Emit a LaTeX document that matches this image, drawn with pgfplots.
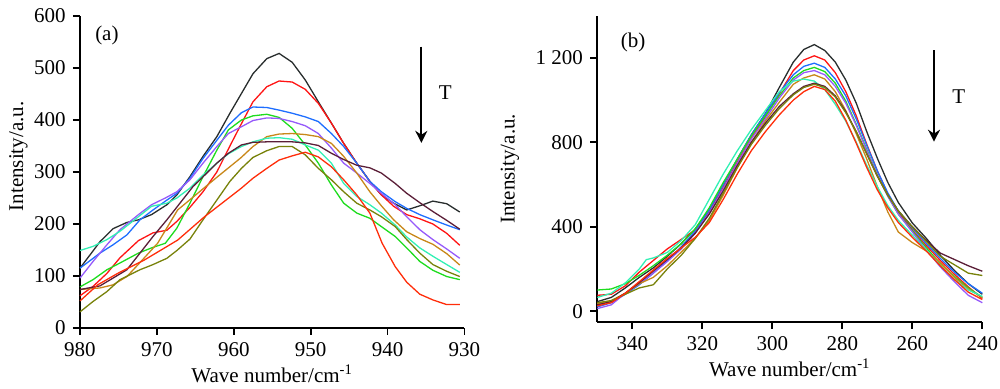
\documentclass[border=0pt]{standalone}
\usepackage{fontspec}
\setmainfont{Liberation Serif}
\usepackage{pgfplots}
\pgfplotsset{compat=1.18}
\usetikzlibrary{arrows.meta}
\definecolor{cK}{RGB}{40,45,45}
\definecolor{cR}{RGB}{255,20,20}
\definecolor{cO}{RGB}{255,45,10}
\definecolor{cB}{RGB}{30,110,255}
\definecolor{cG}{RGB}{30,220,30}
\definecolor{cP}{RGB}{150,90,250}
\definecolor{cY}{RGB}{200,135,25}
\definecolor{cC}{RGB}{50,240,180}
\definecolor{cM}{RGB}{90,30,55}
\definecolor{cV}{RGB}{120,130,10}
\pgfplotsset{myaxis/.style={
  scale only axis, axis x line*=bottom, axis y line*=left, x dir=reverse,
  tick align=outside, major tick length=3.5pt,
  axis line style={line width=0.9pt},
  every tick/.style={line width=0.9pt, black},
  /pgf/number format/assume math mode=true,
  every axis plot/.append style={line width=0.65pt, no markers},
  clip=false,
  xlabel={Wave number/cm\textsuperscript{-1}},
  ylabel={Intensity/a.u.},
  xlabel shift=-3pt,
}}
\begin{document}
\fontsize{10.5}{12}\selectfont
\begin{tikzpicture}
\path[use as bounding box] (0,0) rectangle (500pt,194.5pt);
\begin{axis}[myaxis, at={(40pt,30.5pt)}, anchor=south west,
  width=192.2pt, height=156pt,
  xmin=930, xmax=980, ymin=0, ymax=600,
  xtick={930,940,...,980}, ytick={0,100,...,600},
  ylabel shift=-4pt, ylabel style={at={(ticklabel cs:0.55)}}]
\addplot[cK] coordinates {(980,115)(977.4,166)(975.7,191)(973.9,203)(972.4,208)(970.7,218)(968.7,237)(967.4,256)(965.7,291)(964.0,330)(962.2,368)(960.5,413)(959.0,451)(957.5,489)(955.7,518)(954.1,528)(952.4,511)(950.7,477)(949.0,435)(947.3,394)(945.7,355)(944.0,317)(942.3,282)(940.8,256)(939.2,240)(937.5,227)(935.8,235)(934.1,244)(932.3,239)(930.6,223)};
\addplot[cR] coordinates {(980,62)(978.3,80)(976.5,105)(974.8,135)(972.4,168)(970.5,183)(968.7,188)(967.4,205)(965.7,232)(964.0,262)(962.2,300)(960.5,350)(959.0,393)(957.5,435)(955.7,464)(954.1,475)(952.4,473)(950.7,459)(949.0,432)(947.3,394)(945.7,355)(944.0,317)(942.3,282)(940.8,256)(939.2,234)(937.5,218)(935.8,210)(934.1,200)(932.3,182)(930.6,159)};
\addplot[cB] coordinates {(980,115)(977.4,144)(975.7,160)(973.9,179)(972.2,208)(970.5,227)(968.7,246)(967.4,259)(965.7,288)(964.0,326)(962.2,361)(960.7,390)(959.0,414)(957.5,425)(955.7,424)(954.1,419)(952.4,413)(950.7,406)(949.0,397)(947.3,374)(945.7,349)(944.0,317)(942.3,282)(940.8,262)(939.0,243)(937.5,230)(935.8,218)(934.1,208)(932.3,198)(930.6,189)};
\addplot[cG] coordinates {(980,79)(978.3,93)(976.5,112)(974.8,125)(972.4,144)(970.7,154)(968.9,163)(967.4,192)(965.7,240)(964.0,291)(962.2,342)(960.7,381)(959.0,400)(957.5,408)(955.7,411)(954.1,405)(952.4,384)(950.7,352)(949.0,317)(947.3,275)(945.7,240)(944.0,221)(942.3,211)(940.8,195)(939.0,176)(937.5,154)(935.8,128)(934.1,111)(932.3,99)(930.6,93)};
\addplot[cP] coordinates {(980,96)(978.3,128)(976.5,160)(974.8,189)(972.4,218)(970.7,237)(968.9,250)(967.4,262)(965.7,285)(964.0,317)(962.2,349)(960.7,374)(959.0,387)(957.5,399)(955.7,404)(954.1,403)(952.4,397)(950.7,389)(949.0,374)(947.3,346)(945.7,317)(944.0,298)(942.3,278)(940.8,259)(939.0,237)(937.5,214)(935.8,189)(934.1,170)(932.3,152)(930.6,134)};
\addplot[cY] coordinates {(980,74)(977.4,77)(975.7,83)(973.9,99)(972.5,121)(969.9,163)(967.3,227)(964.7,259)(962.1,291)(959.1,327)(957.5,349)(955.7,368)(954.1,373)(952.4,374)(950.7,372)(949.0,368)(947.3,355)(945.7,330)(944.0,298)(942.3,262)(940.8,235)(939.2,208)(937.5,185)(935.8,172)(934.1,161)(932.3,143)(930.6,121)};
\addplot[cC] coordinates {(980,149)(978.3,157)(976.5,170)(974.8,186)(972.4,214)(970.7,234)(968.7,240)(967.4,250)(965.7,269)(964.0,294)(962.2,317)(960.7,335)(959.0,349)(957.5,358)(955.7,365)(954.1,366)(952.4,363)(950.7,352)(949.0,342)(947.3,317)(945.7,278)(944.0,253)(942.3,237)(940.8,221)(939.0,198)(937.5,175)(935.8,154)(934.1,138)(932.3,122)(930.6,107)};
\addplot[cM] coordinates {(980,74)(977.4,81)(975.7,96)(973.9,112)(972.2,144)(970.5,176)(968.7,208)(967.0,240)(965.3,272)(963.5,298)(962.2,317)(960.7,336)(959.0,352)(957.5,357)(955.7,358)(954.1,358)(952.4,358)(950.7,356)(949.0,351)(947.3,336)(945.7,324)(944.0,313)(942.3,308)(940.8,298)(939.0,278)(937.5,259)(935.8,241)(934.1,224)(932.3,207)(930.6,190)};
\addplot[cV] coordinates {(980,31)(978.3,51)(976.5,70)(974.8,93)(972.2,112)(970.5,122)(968.7,134)(967.4,149)(965.7,171)(964.0,208)(962.2,246)(960.5,282)(959.0,307)(957.5,328)(955.7,341)(954.1,349)(952.4,349)(950.7,333)(949.0,307)(947.3,285)(945.7,262)(944.0,240)(942.3,227)(940.8,214)(939.0,195)(937.5,170)(935.8,144)(934.1,122)(932.3,109)(930.6,99)};
\addplot[cO] coordinates {(980,52)(977.7,83)(975.1,105)(971.6,131)(967.3,169)(963.8,214)(959.0,269)(957.5,288)(955.7,307)(954.1,323)(952.4,331)(950.7,338)(949.0,329)(947.3,310)(945.7,285)(944.0,256)(942.3,221)(940.7,163)(939.0,118)(937.5,88)(935.8,65)(934.1,54)(932.3,45)(930.6,45)};
\node[anchor=center] at (axis cs:976.5,562) {(a)};
\node[anchor=center] at (axis cs:932.5,452) {T};
\draw[line width=0.9pt,-{Stealth[length=6pt,width=6pt]}] (axis cs:935.6,541) -- (axis cs:935.6,356);
\end{axis}
\begin{axis}[myaxis, at={(298.65pt,33.65pt)}, anchor=south west,
  width=192.5pt, height=153pt,
  xmin=240, xmax=350, ymin=-50, ymax=1400,
  xtick={240,260,...,340}, ytick={0,400,800,1200},
  ylabel shift=1pt,
  /pgf/number format/1000 sep={\ }]
\addplot[cK] coordinates {(350,45)(346,65)(342,110)(338,160)(334,205)(330,260)(326,320)(322,390)(318,480)(314,600)(310,720)(306,835)(302,935)(298,1060)(294,1180)(291,1240)(288,1263)(285,1235)(282,1180)(279,1095)(276,985)(273,850)(270,725)(267,610)(264,515)(260,418)(256,345)(252,265)(248,193)(244,130)(240,80)};
\addplot[cR] coordinates {(350,75)(346,80)(342,120)(338,185)(334,240)(330,295)(326,340)(322,385)(318,470)(314,585)(310,705)(306,820)(302,920)(298,1030)(294,1140)(291,1190)(288,1210)(285,1190)(282,1130)(279,1040)(276,925)(273,790)(270,665)(267,555)(264,470)(260,385)(256,310)(252,240)(248,175)(244,115)(240,60)};
\addplot[cB] coordinates {(350,20)(346,40)(342,80)(338,125)(334,180)(330,240)(326,305)(322,380)(318,480)(314,600)(310,720)(306,835)(302,935)(298,1035)(294,1120)(291,1160)(288,1175)(285,1155)(282,1100)(279,1020)(276,910)(273,785)(270,665)(267,560)(264,475)(260,395)(256,320)(252,250)(248,185)(244,130)(240,85)};
\addplot[cG] coordinates {(350,100)(346,105)(342,130)(338,170)(334,215)(330,265)(326,320)(322,390)(318,490)(314,610)(310,720)(306,830)(302,925)(298,1020)(294,1105)(291,1140)(288,1155)(285,1135)(282,1080)(279,995)(276,885)(273,765)(270,645)(267,545)(264,460)(260,380)(256,300)(252,225)(248,165)(244,110)(240,65)};
\addplot[cP] coordinates {(350,12)(346,30)(342,85)(338,130)(334,180)(330,235)(326,295)(322,370)(318,465)(314,580)(310,700)(306,815)(302,910)(298,1010)(294,1095)(291,1130)(288,1140)(285,1120)(282,1065)(279,985)(276,880)(273,760)(270,645)(267,545)(264,460)(260,375)(256,290)(252,210)(248,140)(244,75)(240,40)};
\addplot[cY] coordinates {(350,35)(346,50)(342,85)(338,130)(334,160)(330,215)(326,280)(322,345)(318,430)(314,550)(310,680)(306,800)(302,900)(298,990)(294,1075)(291,1105)(288,1120)(285,1100)(282,1040)(279,950)(276,840)(273,720)(270,590)(267,470)(264,375)(260,325)(256,285)(252,230)(248,160)(244,105)(240,65)};
\addplot[cC] coordinates {(350,65)(346,85)(342,134)(338,200)(336,244)(334,252)(330,278)(326,335)(322,410)(318,530)(314,650)(310,760)(306,860)(302,950)(298,1040)(294,1090)(291,1100)(288,1090)(285,1050)(282,980)(279,900)(276,800)(273,690)(270,590)(267,500)(264,430)(260,360)(256,290)(252,215)(248,150)(244,100)(240,70)};
\addplot[cM] coordinates {(350,30)(346,45)(342,85)(338,135)(334,190)(330,245)(326,300)(322,370)(318,460)(314,570)(310,690)(306,800)(302,890)(298,970)(294,1030)(291,1065)(288,1080)(285,1065)(282,1020)(279,945)(276,850)(273,745)(270,640)(267,550)(264,475)(260,400)(256,335)(252,275)(248,245)(244,215)(240,189)};
\addplot[cV] coordinates {(350,40)(346,50)(342,80)(338,110)(334,125)(330,200)(326,265)(322,345)(318,440)(314,560)(310,680)(306,790)(302,880)(298,960)(294,1025)(291,1060)(288,1075)(285,1060)(282,1015)(279,940)(276,850)(273,745)(270,640)(267,550)(264,475)(260,400)(256,330)(252,260)(248,220)(244,180)(240,169)};
\addplot[cO] coordinates {(350,25)(346,40)(342,85)(338,140)(334,195)(330,250)(326,300)(322,350)(318,420)(314,530)(310,650)(306,760)(302,850)(298,930)(294,1000)(291,1040)(288,1065)(285,1050)(282,995)(279,905)(276,795)(273,680)(270,575)(267,490)(264,420)(260,350)(256,285)(252,215)(248,150)(244,90)(240,55)};
\node[anchor=center] at (axis cs:339.8,1271) {(b)};
\node[anchor=center] at (axis cs:246.7,1015) {T};
\draw[line width=0.9pt,-{Stealth[length=6pt,width=6pt]}] (axis cs:253.8,1236) -- (axis cs:253.8,803);
\end{axis}
\end{tikzpicture}
\end{document}
